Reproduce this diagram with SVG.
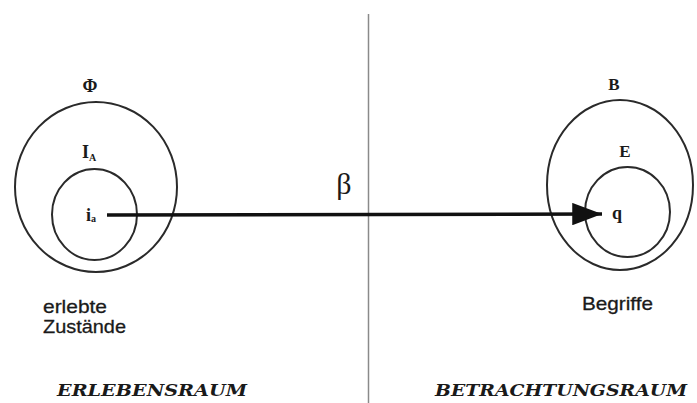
<svg xmlns="http://www.w3.org/2000/svg" width="697" height="403" viewBox="0 0 697 403">
<style>
.ring{fill:none;stroke:#2a2a2a;stroke-width:2}
.sym{font-family:"Liberation Serif",serif;font-weight:bold;fill:#1a1a1a}
.lab{font-family:"Liberation Sans",Arial,sans-serif;font-size:19px;fill:#1a1a1a;stroke:#1a1a1a;stroke-width:0.3}
.room{font-family:"DejaVu Serif",serif;font-weight:bold;font-style:italic;font-size:17px;fill:#1a1a1a}
</style>
<defs>
<marker id="ah" markerWidth="8.5" markerHeight="6.4" refX="8.5" refY="3.2" orient="auto" markerUnits="strokeWidth">
<path d="M0,0 L8.5,3.2 L0,6.4 Z" fill="#111"/>
</marker>
</defs>
<rect width="697" height="403" fill="#fff"/>
<line x1="368.5" y1="14" x2="368.5" y2="403" stroke="#8a8a8a" stroke-width="1.5"/>
<g id="phi">
<ellipse class="ring" cx="96" cy="187" rx="81" ry="85"/>
<text class="sym" x="90" y="92" font-size="18" text-anchor="middle">Φ</text>
</g>
<g id="IA">
<ellipse class="ring" cx="94.5" cy="214.5" rx="42.5" ry="45.5"/>
<text class="sym" x="82" y="158" font-size="18">I<tspan font-size="10" dy="3">A</tspan></text>
</g>
<g id="ia">
<text class="sym" x="86" y="221" font-size="18">i<tspan font-size="10" dy="1">a</tspan></text>
</g>
<g id="B">
<ellipse class="ring" cx="620" cy="185" rx="73" ry="85"/>
<text class="sym" x="614" y="90" font-size="17" text-anchor="middle">B</text>
</g>
<g id="E">
<ellipse class="ring" cx="627.5" cy="212" rx="42.5" ry="45"/>
<text class="sym" x="625" y="157" font-size="17" text-anchor="middle">E</text>
</g>
<g id="q">
<text class="sym" x="612" y="219" font-size="18">q</text>
</g>
<g id="connectors">
<line x1="107" y1="215" x2="602" y2="214" stroke="#111" stroke-width="3.5" marker-end="url(#ah)"/>
<text x="344" y="194" font-family="Liberation Serif,serif" font-size="30" text-anchor="middle" fill="#1a1a1a">β</text>
</g>
<text class="lab" x="43" y="313" textLength="64" lengthAdjust="spacingAndGlyphs">erlebte</text>
<text class="lab" x="43" y="333" textLength="83" lengthAdjust="spacingAndGlyphs">Zustände</text>
<text class="lab" x="582" y="310" textLength="71" lengthAdjust="spacingAndGlyphs">Begriffe</text>
<text class="room" x="57" y="396" textLength="190" lengthAdjust="spacingAndGlyphs">ERLEBENSRAUM</text>
<text class="room" x="435" y="396" textLength="252" lengthAdjust="spacingAndGlyphs">BETRACHTUNGSRAUM</text>
</svg>
